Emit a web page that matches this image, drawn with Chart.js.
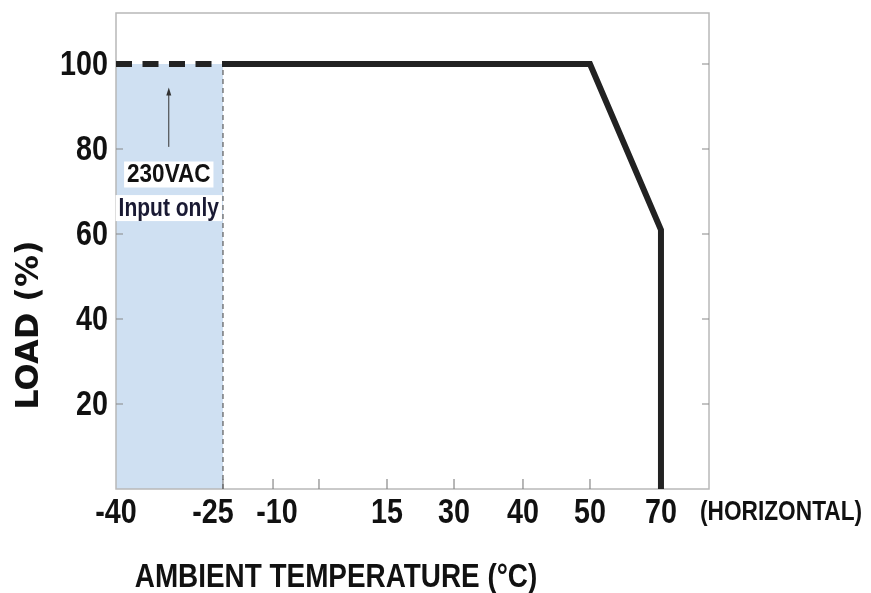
<!DOCTYPE html>
<html>
<head>
<meta charset="utf-8">
<script src="https://cdn.jsdelivr.net/npm/chart.js@4.4.1/dist/chart.umd.min.js"></script>
<style>
html, body { margin: 0; padding: 0; background: #fff; }
#wrap { width: 871px; height: 593px; position: relative; }
</style>
</head>
<body>
<div id="wrap"><canvas id="derating"></canvas></div>
<script>
const tempDashed = [-40, -25];
const loadDashed = [100, 100];
const tempSolid = [-25, 50, 70, 70];
const loadSolid = [100, 100, 61, 0];
const inputOnlyTemps = [-40, -25];
const inputOnlyLoad = [100, 100];
const xTicks = [-40, -25, -10, 0, 15, 30, 40, 50, 70];
const xTickLabels = ['-40', '-25', '-10', '', '15', '30', '40', '50', '70'];
const yTicks = [20, 40, 60, 80, 100];

// the printed temperature axis is not linear, each stop gets its own share of the width
const axisStops = [-40, -25, -10, 0, 15, 30, 40, 50, 70, 84];
const axisShare = [0, 0.1804, 0.2648, 0.3423, 0.4570, 0.5700, 0.6863, 0.7993, 0.9190, 1];

const SANS = '"Liberation Sans", Arial, sans-serif';

function lerp(v, xs, ys) {
  if (v <= xs[0]) return ys[0];
  for (let i = 1; i < xs.length; i++) {
    if (v <= xs[i]) {
      const t = (v - xs[i - 1]) / (xs[i] - xs[i - 1]);
      return ys[i - 1] + t * (ys[i] - ys[i - 1]);
    }
  }
  return ys[ys.length - 1];
}

class PiecewiseScale extends Chart.LinearScale {
  getPixelForValue(value) {
    return this.getPixelForDecimal(lerp(value, axisStops, axisShare));
  }
  getValueForPixel(pixel) {
    return lerp(this.getDecimalForPixel(pixel), axisShare, axisStops);
  }
}
PiecewiseScale.id = 'piecewise';
PiecewiseScale.defaults = Chart.LinearScale.defaults;
Chart.register(PiecewiseScale);

const pts = (xs, ys) => xs.map((v, i) => ({ x: v, y: ys[i] }));

// no narrow face installed, so squeeze Liberation Sans Bold like Arial Narrow
function narrowText(ctx, txt, x, y, size, align, baseline, squeeze = 0.82) {
  ctx.save();
  ctx.font = 'bold ' + size + 'px ' + SANS;
  ctx.textAlign = align;
  ctx.textBaseline = baseline;
  ctx.translate(x, y);
  ctx.scale(squeeze, 1);
  ctx.fillText(txt, 0, 0);
  ctx.restore();
}
function narrowWidth(ctx, txt, size, squeeze = 0.82) {
  ctx.save();
  ctx.font = 'bold ' + size + 'px ' + SANS;
  const w = ctx.measureText(txt).width * squeeze;
  ctx.restore();
  return w;
}

const labelNudge = { '-25': -10, '-10': 4 };

const decorations = {
  id: 'decorations',
  afterDatasetDraw(chart, args) {
    if (args.index !== 0) return;
    const { ctx, chartArea: a, scales: { x, y } } = chart;
    ctx.save();
    ctx.strokeStyle = '#b8b8b8';
    ctx.lineWidth = 1.5;
    ctx.strokeRect(a.left, a.top, a.width, a.height);
    ctx.strokeStyle = '#888';
    ctx.lineWidth = 1.2;
    ctx.beginPath();
    yTicks.forEach(v => {
      const py = y.getPixelForValue(v);
      ctx.moveTo(a.left, py); ctx.lineTo(a.left + 7, py);
      ctx.moveTo(a.right, py); ctx.lineTo(a.right - 7, py);
    });
    xTicks.slice(1).forEach(v => {
      const px = x.getPixelForValue(v);
      ctx.moveTo(px, a.bottom); ctx.lineTo(px, a.bottom - 10);
    });
    ctx.stroke();
    ctx.restore();
  },
  afterDraw(chart) {
    const { ctx, chartArea: a, scales: { x, y } } = chart;
    ctx.save();
    ctx.fillStyle = '#111';

    // tick labels
    yTicks.forEach(v => {
      narrowText(ctx, String(v), a.left - 8, y.getPixelForValue(v) + 1, 35, 'right', 'middle');
    });
    xTicks.forEach((v, i) => {
      const lbl = xTickLabels[i];
      if (!lbl) return;
      narrowText(ctx, lbl, x.getPixelForValue(v) + (labelNudge[lbl] || 0), a.bottom + 34, 35, 'center', 'alphabetic');
    });
    narrowText(ctx, '(HORIZONTAL)', a.right - 9, a.bottom + 31, 27, 'left', 'alphabetic', 0.84);

    // axis titles
    narrowText(ctx, 'AMBIENT TEMPERATURE (°C)', 336, 587, 34, 'center', 'alphabetic');

    ctx.save();
    ctx.translate(30, 325);
    ctx.rotate(-Math.PI / 2);
    ctx.font = 'bold 32px "DejaVu Sans", sans-serif';
    ctx.textAlign = 'center';
    ctx.textBaseline = 'middle';
    ctx.fillText('LOAD (%)', 0, 0);
    ctx.restore();

    // arrow + note in the shaded band
    const ax = x.getPixelForValue(-32.6);
    const y0 = y.getPixelForValue(80.5);
    const y1 = y.getPixelForValue(94.5);
    ctx.strokeStyle = '#333';
    ctx.lineWidth = 1;
    ctx.beginPath();
    ctx.moveTo(ax, y0); ctx.lineTo(ax, y1 + 6);
    ctx.stroke();
    ctx.fillStyle = '#333';
    ctx.beginPath();
    ctx.moveTo(ax, y1); ctx.lineTo(ax - 2.5, y1 + 8); ctx.lineTo(ax + 2.5, y1 + 8);
    ctx.closePath();
    ctx.fill();

    [['230VAC', 74.0, 0.9, '#111'], ['Input only', 66.1, 0.84, '#1a1a33']].forEach(([txt, v, sq, col]) => {
      const cy = y.getPixelForValue(v);
      const w = narrowWidth(ctx, txt, 25, sq) + 6;
      ctx.fillStyle = '#fff';
      ctx.fillRect(ax - w / 2, cy - 13, w, 26);
      ctx.fillStyle = col;
      narrowText(ctx, txt, ax, cy + 1, 25, 'center', 'middle', sq);
    });
    ctx.restore();
  }
};

new Chart(document.getElementById('derating'), {
  type: 'line',
  data: {
    datasets: [{
      data: pts(inputOnlyTemps, inputOnlyLoad),
      order: 3,
      fill: 'origin',
      backgroundColor: '#cfe0f2',
      borderWidth: 0,
      pointRadius: 0
    }, {
      data: pts([-25, -25], [0, 100]),
      order: 2,
      borderColor: '#666',
      borderWidth: 1.3,
      borderDash: [5, 4],
      pointRadius: 0
    }, {
      data: pts(tempDashed, loadDashed),
      order: 1,
      borderColor: '#222',
      borderWidth: 6,
      borderDash: [16, 10.5],
      pointRadius: 0
    }, {
      data: pts(tempSolid, loadSolid),
      order: 0,
      borderColor: '#222',
      borderWidth: 6,
      borderJoinStyle: 'miter',
      pointRadius: 0
    }]
  },
  options: {
    responsive: true,
    maintainAspectRatio: false,
    animation: false,
    layout: { padding: { top: 13, right: 162, left: 0, bottom: 0 } },
    plugins: { legend: { display: false }, tooltip: { enabled: false } },
    scales: {
      x: {
        type: 'piecewise',
        min: -40,
        max: 84,
        afterFit: s => { s.height = 104; s.paddingLeft = 0; s.paddingRight = 0; },
        afterBuildTicks: s => { s.ticks = xTicks.map(v => ({ value: v })); },
        grid: { display: false },
        border: { display: false },
        ticks: { display: false }
      },
      y: {
        min: 0,
        max: 112,
        afterFit: s => { s.width = 116; s.paddingTop = 0; s.paddingBottom = 0; },
        afterBuildTicks: s => { s.ticks = yTicks.map(v => ({ value: v })); },
        grid: { display: false },
        border: { display: false },
        ticks: { display: false }
      }
    }
  },
  plugins: [decorations]
});
</script>
</body>
</html>
